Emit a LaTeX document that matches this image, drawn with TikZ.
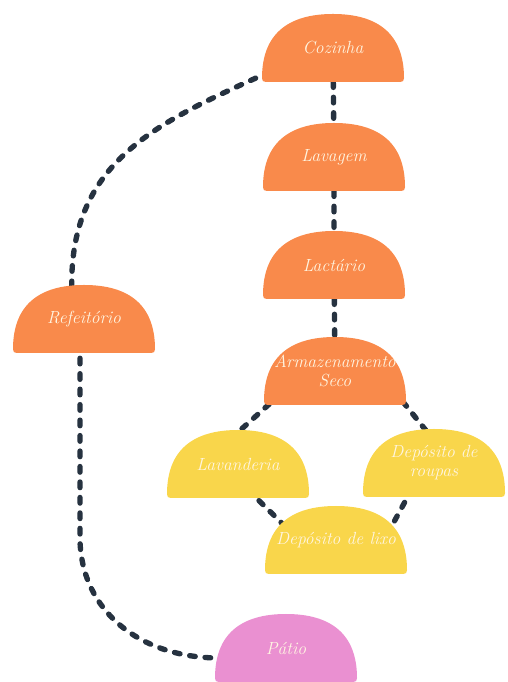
\documentclass[tikz,border=0pt]{standalone}
\usepackage{tikz}
\usetikzlibrary{calc,backgrounds}

\definecolor{laranja}{HTML}{F98A4B}
\definecolor{amarelo}{HTML}{F9D64B}
\definecolor{rosa}{HTML}{EA90D1}
\definecolor{creme}{HTML}{FFF5E1}
\definecolor{traco}{HTML}{263240}

% contorno de cupula, centrado na origem (unidades em px)
\newcommand\formadomo{(-71,-30) .. controls (-71,-33) and (-70,-34) .. (-67,-34) -- (67,-34)
      .. controls (70,-34) and (71,-33) .. (71,-30)
      .. controls (71,14) and (45,34) .. (0,34)
      .. controls (-45,34) and (-71,14) .. (-71,-30) -- cycle}

\tikzset{
  cupula/.style={minimum width=142*0.025cm, minimum height=67*0.025cm, inner sep=0pt,
    align=center, text=creme, font=\fontsize{12.5}{13.5}\selectfont\itshape},
  ligacao/.style={draw=traco, line width=3.8pt, line cap=round, dash pattern=on 4pt off 7pt}
}

\begin{document}
\begin{tikzpicture}[x=0.025cm,y=0.025cm]
            \useasboundingbox (0,0) rectangle (507,682);

            \node[cupula] (coz) at (333,634) {Cozinha};
            \node[cupula] (lav) at (334,525) {Lavagem};
            \node[cupula] (lac) at (334,417) {Lactário};
            \node[cupula] (arm) at (335,311) {Armazenamento\\Seco};
            \node[cupula] (ref) at (84,363) {Refeitório};
            \node[cupula] (lavd) at (238,218) {Lavanderia};
            \node[cupula] (dpr) at (434,219) {Depósito de\\roupas};
            \node[cupula] (dlx) at (336,142) {Depósito de lixo};
            \node[cupula] (pat) at (286,34) {Pátio};

            \begin{scope}[on background layer]
            \draw[ligacao] (coz) -- (lav) -- (lac) -- (arm);
            \draw[ligacao] ($(arm.south west)+(17,11)$) -- ($(lavd.north)+(-10,-11)$);
            \draw[ligacao] ($(arm.south east)+(-13,15)$) -- ($(dpr.north)+(-1,-10)$);
            \draw[ligacao] ($(lavd.south)+(10,8)$) -- ($(dlx.north)+(-46,-25)$);
            \draw[ligacao] ($(dpr.south)+(-22,8)$) -- ($(dlx.north)+(54,-23)$);
            \draw[ligacao] ($(coz.south west)+(8,10)$) .. controls +(-110,-50) and +(-6,135) .. ($(ref.north)+(-12,-10)$);
            \draw[ligacao] ($(ref.south)+(-4,10)$) -- ++(0,-198) .. controls +(2,-70) and +(-80,0) .. ($(pat.west)+(5,-10)$);
            % cupulas por cima das ligacoes
            \foreach \n/\c in {coz/laranja,lav/laranja,lac/laranja,arm/laranja,ref/laranja,
                               lavd/amarelo,dpr/amarelo,dlx/amarelo,pat/rosa}
              \fill[\c, shift={(\n.center)}] \formadomo;
            \end{scope}
        \end{tikzpicture}
\end{document}
